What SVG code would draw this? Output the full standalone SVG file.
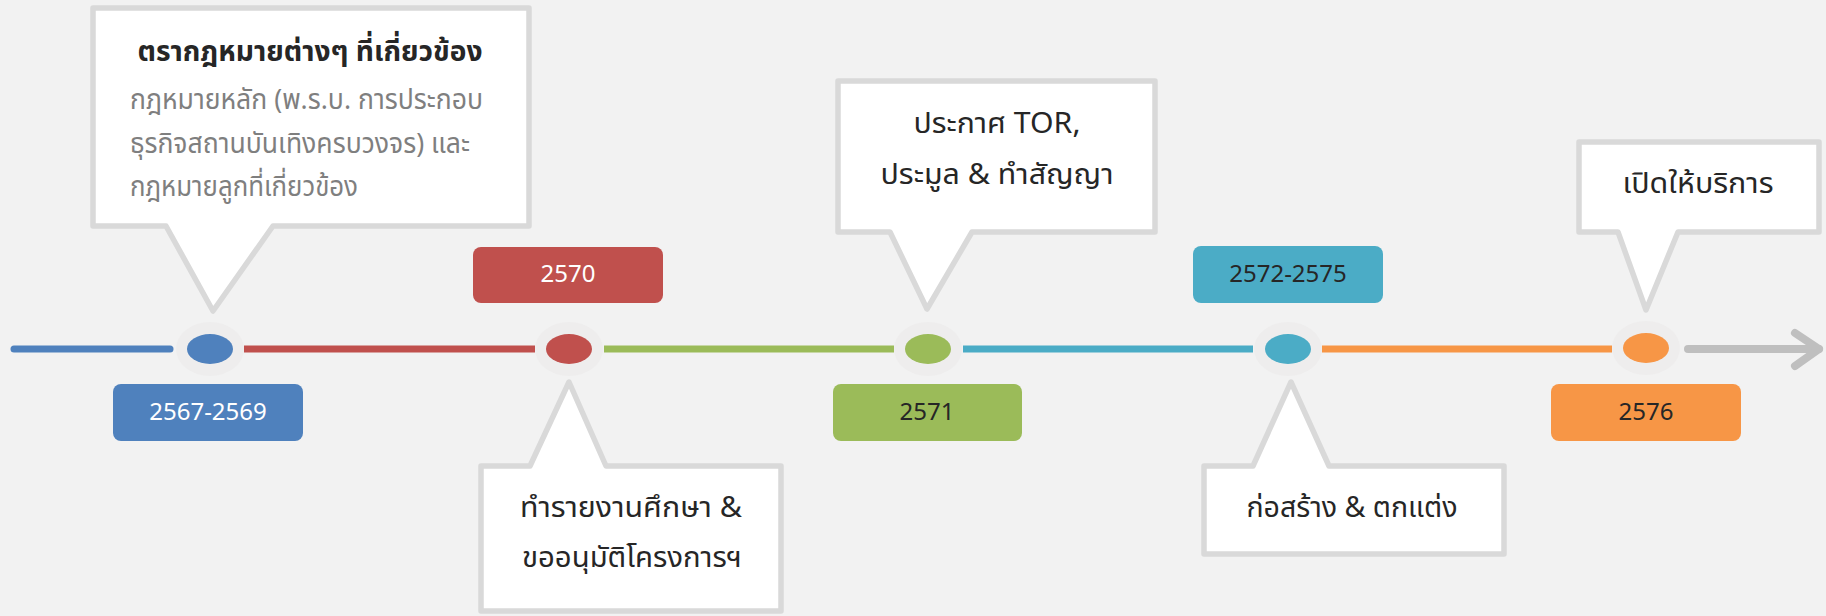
<svg xmlns="http://www.w3.org/2000/svg" width="1826" height="616" viewBox="0 0 1826 616">
<style>
.bg{fill:#f2f2f2}
.call{fill:#ffffff;stroke:#d9d9d9;stroke-width:5.5;stroke-linejoin:round}
.t{font-family:"Noto Sans Thai","Leelawadee UI",Tahoma,"Noto Sans",sans-serif;fill:#262626;text-anchor:middle;font-size:29px}
.b{font-weight:bold}
.g{fill:#7f7f7f;text-anchor:start;font-size:28px}
.d{font-family:"Noto Sans Thai","Leelawadee UI",Tahoma,"Noto Sans",sans-serif;font-size:24px;text-anchor:middle;fill:#262626}
.w{fill:#ffffff}
.halo{fill:#eeeded}
.seg{stroke-width:7;fill:none}
</style>
<rect class="bg" x="0" y="0" width="1826" height="616"/>
<g id="connectors">
<line class="seg" x1="14" y1="349" x2="170" y2="349" stroke="#4f81bd" stroke-linecap="round"/>
<line class="seg" x1="244" y1="349" x2="535" y2="349" stroke="#c0504d"/>
<line class="seg" x1="604" y1="349" x2="894" y2="349" stroke="#9bbb59"/>
<line class="seg" x1="963" y1="349" x2="1253" y2="349" stroke="#4bacc6"/>
<line class="seg" x1="1322" y1="349" x2="1612" y2="349" stroke="#f79646"/>
<line x1="1688" y1="349" x2="1819" y2="349" stroke="#bfbfbf" stroke-width="8" stroke-linecap="round"/>
<polyline points="1795,333 1819,349 1795,366" fill="none" stroke="#bfbfbf" stroke-width="8" stroke-linecap="round" stroke-linejoin="round"/>
</g>
<g id="dot1"><ellipse class="halo" cx="210" cy="349" rx="34" ry="27"/><ellipse cx="210" cy="349" rx="23" ry="15" fill="#4f81bd"/></g>
<g id="dot2"><ellipse class="halo" cx="569" cy="349" rx="34" ry="27"/><ellipse cx="569" cy="349" rx="23" ry="15" fill="#c0504d"/></g>
<g id="dot3"><ellipse class="halo" cx="928" cy="349" rx="34" ry="27"/><ellipse cx="928" cy="349" rx="23" ry="15" fill="#9bbb59"/></g>
<g id="dot4"><ellipse class="halo" cx="1288" cy="349" rx="34" ry="27"/><ellipse cx="1288" cy="349" rx="23" ry="15" fill="#4bacc6"/></g>
<g id="dot5"><ellipse class="halo" cx="1646" cy="348" rx="34" ry="27"/><ellipse cx="1646" cy="348" rx="23" ry="15" fill="#f79646"/></g>
<g id="label1"><rect x="113" y="384" width="190" height="57" rx="8" fill="#4f81bd"/><text class="d w" x="208" y="420">2567-2569</text></g>
<g id="label2"><rect x="473" y="247" width="190" height="56" rx="8" fill="#c0504d"/><text class="d w" x="568" y="282">2570</text></g>
<g id="label3"><rect x="833" y="384" width="189" height="57" rx="8" fill="#9bbb59"/><text class="d" x="927" y="420">2571</text></g>
<g id="label4"><rect x="1193" y="246" width="190" height="57" rx="8" fill="#4bacc6"/><text class="d" x="1288" y="282">2572-2575</text></g>
<g id="label5"><rect x="1551" y="384" width="190" height="57" rx="8" fill="#f79646"/><text class="d" x="1646" y="420">2576</text></g>
<g id="callout1">
<path class="call" d="M93,8 H529 V226 H273 L213,311 L166,226 H93 Z"/>
<text class="t b" x="310" y="61" textLength="345" lengthAdjust="spacingAndGlyphs">ตรากฎหมายต่างๆ ที่เกี่ยวข้อง</text>
<text class="t g" x="130" y="109" textLength="353" lengthAdjust="spacingAndGlyphs">กฎหมายหลัก (พ.ร.บ. การประกอบ</text>
<text class="t g" x="130" y="153" textLength="340" lengthAdjust="spacingAndGlyphs">ธุรกิจสถานบันเทิงครบวงจร) และ</text>
<text class="t g" x="130" y="196" textLength="228" lengthAdjust="spacingAndGlyphs">กฎหมายลูกที่เกี่ยวข้อง</text>
</g>
<g id="callout2">
<path class="call" d="M481,466 H530 L569,382 L606,466 H781 V611 H481 Z"/>
<text class="t" x="631" y="517" textLength="222" lengthAdjust="spacingAndGlyphs">ทำรายงานศึกษา &amp;</text>
<text class="t" x="632" y="567" textLength="220" lengthAdjust="spacingAndGlyphs">ขออนุมัติโครงการฯ</text>
</g>
<g id="callout3">
<path class="call" d="M838,81 H1155 V232 H972 L927,309 L890,232 H838 Z"/>
<text class="t" x="997" y="133" textLength="167" lengthAdjust="spacingAndGlyphs">ประกาศ TOR,</text>
<text class="t" x="997" y="184" textLength="233" lengthAdjust="spacingAndGlyphs">ประมูล &amp; ทำสัญญา</text>
</g>
<g id="callout4">
<path class="call" d="M1204,466 H1253 L1291,382 L1329,466 H1504 V554 H1204 Z"/>
<text class="t" x="1352" y="517" textLength="211" lengthAdjust="spacingAndGlyphs">ก่อสร้าง &amp; ตกแต่ง</text>
</g>
<g id="callout5">
<path class="call" d="M1579,142 H1819 V232 H1678 L1646,310 L1618,232 H1579 Z"/>
<text class="t" x="1698" y="193" textLength="151" lengthAdjust="spacingAndGlyphs">เปิดให้บริการ</text>
</g>
</svg>
